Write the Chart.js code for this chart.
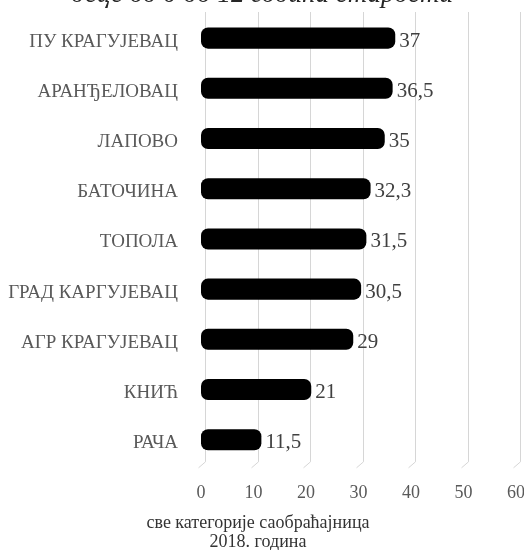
<!DOCTYPE html>
<html><head><meta charset="utf-8">
<script src="https://cdn.jsdelivr.net/npm/chart.js@4.4.1/dist/chart.umd.min.js"></script>
<style>
html,body{margin:0;padding:0;background:#fff;overflow:hidden}
#wrap{position:relative;width:524px;height:550px;overflow:hidden}
canvas{position:absolute;left:0;top:0}
#title{position:absolute;left:0;width:524px;top:-22px;line-height:30px;text-align:center;font:italic 27px "Liberation Serif",serif;color:#262626;white-space:nowrap}
</style></head><body>
<div id="wrap"><canvas id="c" width="524" height="550"></canvas><div id="title"></div></div>
<script>
const chartTitle = 'деце од 0 до 12 година старости';
const categories = ['ПУ КРАГУЈЕВАЦ','АРАНЂЕЛОВАЦ','ЛАПОВО','БАТОЧИНА','ТОПОЛА','ГРАД КАРГУЈЕВАЦ','АГР КРАГУЈЕВАЦ','КНИЋ','РАЧА'];
const values = [37, 36.5, 35, 32.3, 31.5, 30.5, 29, 21, 11.5];
const xTickMin = 0, xTickMax = 60, xTickStep = 10;
const axisTitle = ['све категорије саобраћајница', '2018. година'];

document.getElementById('title').textContent = chartTitle;
const fmt = v => String(v).replace('.', ',');
const FONT = '"Liberation Serif", serif';

const backGrid = {
  id: 'backGrid',
  beforeDatasetsDraw(chart) {
    const {ctx, chartArea, scales: {x}} = chart;
    ctx.save();
    ctx.strokeStyle = '#d6d6d6';
    ctx.lineWidth = 1;
    x.ticks.forEach(t => {
      const px = Math.round(x.getPixelForValue(t.value)) + 0.5;
      ctx.beginPath();
      ctx.moveTo(px + 4, chartArea.top - 1);
      ctx.lineTo(px + 4, chartArea.bottom - 3);
      ctx.lineTo(px - 3, chartArea.bottom + 3);
      ctx.stroke();
    });
    ctx.restore();
  }
};

const valueLabels = {
  id: 'valueLabels',
  afterDatasetsDraw(chart) {
    const {ctx} = chart;
    const meta = chart.getDatasetMeta(0);
    ctx.save();
    ctx.fillStyle = '#404040';
    ctx.font = '21px ' + FONT;
    ctx.textAlign = 'left';
    ctx.textBaseline = 'middle';
    meta.data.forEach((bar, i) => {
      ctx.fillText(fmt(values[i]), bar.x + 4, bar.y + 3);
    });
    ctx.restore();
  }
};

new Chart(document.getElementById('c'), {
  type: 'bar',
  data: {
    labels: categories,
    datasets: [{
      data: values,
      backgroundColor: '#000000',
      borderRadius: 7,
      borderSkipped: false,
      barPercentage: 0.42,
      categoryPercentage: 1
    }]
  },
  options: {
    indexAxis: 'y',
    responsive: false,
    animation: false,
    layout: {padding: {top: 13, right: 8, left: 0, bottom: 0}},
    plugins: {
      legend: {display: false},
      tooltip: {enabled: false},
      title: {display: true, position: 'bottom', text: axisTitle, color: '#333333',
              font: {family: FONT, size: 18, weight: 'normal', lineHeight: 1.06},
              padding: {top: 4, bottom: -2}}
    },
    scales: {
      y: {
        grid: {display: false, drawTicks: false},
        border: {display: false},
        ticks: {
          color: '#595959', font: {family: FONT, size: 19, lineHeight: '7px'}, padding: 23,
          callback(value) { return ['', this.getLabelForValue(value)]; }
        },
        afterFit(s) { s.width = 201; s.paddingTop = 0; s.paddingBottom = 0; }
      },
      x: {
        min: xTickMin, max: xTickMax,
        grid: {display: false, drawTicks: false},
        border: {display: false},
        ticks: {stepSize: xTickStep, color: '#595959', font: {family: FONT, size: 18}, padding: 18},
        afterFit(s) { s.height = 45; s.paddingLeft = 0; s.paddingRight = 0; }
      }
    }
  },
  plugins: [backGrid, valueLabels]
});
</script>
</body></html>
